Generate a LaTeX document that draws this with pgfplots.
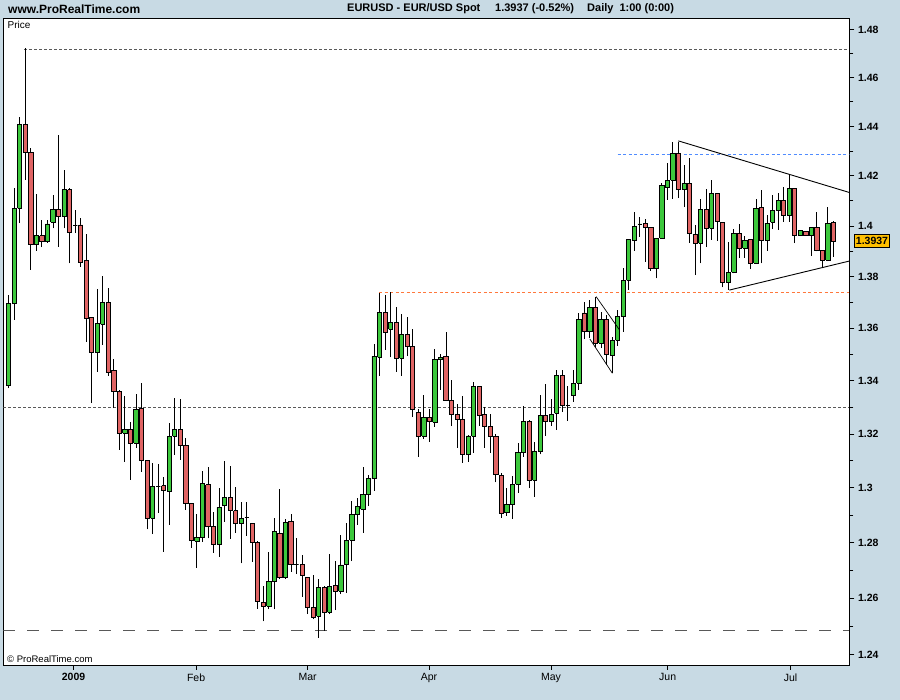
\documentclass[border=0pt]{standalone}
\usepackage{pgfplots}
\pgfplotsset{compat=1.18}
\usepackage{pgfplotstable}
\usepackage{fontspec}
\setmainfont{Liberation Sans}
\definecolor{bgcol}{RGB}{200,218,228}
\definecolor{candgreen}{RGB}{60,200,60}
\definecolor{candred}{RGB}{224,100,100}
\definecolor{pricebox}{RGB}{255,192,0}
\definecolor{reforange}{RGB}{255,120,60}
\definecolor{refblue}{RGB}{80,140,255}

\pgfplotstableread{
i o h l c
0 1.3380 1.3729 1.3371 1.3697
1 1.3697 1.4150 1.3633 1.4071
2 1.4071 1.4440 1.4011 1.4410
3 1.4410 1.4723 1.4184 1.4296
4 1.4296 1.4312 1.3827 1.3925
5 1.3928 1.4128 1.3903 1.3961
6 1.3961 1.4024 1.3916 1.3938
7 1.3938 1.4024 1.3935 1.4008
8 1.4015 1.4124 1.3991 1.4064
9 1.4064 1.4366 1.3918 1.4037
10 1.4037 1.4224 1.3991 1.4144
11 1.4144 1.4150 1.3853 1.3975
12 1.4003 1.4064 1.3971 1.4003
13 1.4004 1.4033 1.3840 1.3857
14 1.3865 1.3967 1.3549 1.3639
15 1.3643 1.3645 1.3315 1.3509
16 1.3509 1.3753 1.3434 1.3620
17 1.3616 1.3803 1.3537 1.3701
18 1.3701 1.3755 1.3419 1.3432
19 1.3440 1.3482 1.3296 1.3359
20 1.3359 1.3366 1.3140 1.3202
21 1.3202 1.3342 1.3096 1.3217
22 1.3217 1.3246 1.3029 1.3165
23 1.3165 1.3349 1.3148 1.3292
24 1.3296 1.3390 1.3059 1.3099
25 1.3099 1.3101 1.2848 1.2888
26 1.2888 1.3091 1.2831 1.3004
27 1.3006 1.3088 1.2909 1.3006
28 1.3008 1.3039 1.2767 1.2992
29 1.2987 1.3240 1.2864 1.3191
30 1.3191 1.3334 1.3122 1.3217
31 1.3217 1.3331 1.3103 1.3157
32 1.3157 1.3183 1.2919 1.2943
33 1.2943 1.2945 1.2781 1.2808
34 1.2804 1.2904 1.2709 1.2819
35 1.2819 1.3062 1.2802 1.3016
36 1.3012 1.3076 1.2815 1.2860
37 1.2860 1.2912 1.2763 1.2794
38 1.2794 1.2998 1.2749 1.2928
39 1.2934 1.3099 1.2876 1.2965
40 1.2965 1.3081 1.2814 1.2916
41 1.2915 1.3003 1.2836 1.2870
42 1.2870 1.2948 1.2725 1.2888
43 1.2890 1.2948 1.2825 1.2890
44 1.2870 1.2872 1.2731 1.2801
45 1.2801 1.2805 1.2562 1.2590
46 1.2585 1.2643 1.2518 1.2571
47 1.2571 1.2765 1.2560 1.2660
48 1.2660 1.2889 1.2560 1.2841
49 1.2834 1.2994 1.2668 1.2675
50 1.2675 1.2886 1.2668 1.2874
51 1.2878 1.2903 1.2695 1.2722
52 1.2722 1.2818 1.2686 1.2722
53 1.2722 1.2755 1.2605 1.2682
54 1.2675 1.2677 1.2543 1.2567
55 1.2567 1.2683 1.2525 1.2532
56 1.2536 1.2669 1.2460 1.2639
57 1.2639 1.2643 1.2484 1.2550
58 1.2550 1.2759 1.2543 1.2643
59 1.2646 1.2734 1.2558 1.2624
60 1.2624 1.2827 1.2615 1.2719
61 1.2722 1.2872 1.2619 1.2809
62 1.2809 1.2951 1.2733 1.2903
63 1.2903 1.2961 1.2864 1.2931
64 1.2921 1.3078 1.2836 1.2976
65 1.2976 1.3047 1.2933 1.3033
66 1.3033 1.3539 1.2989 1.3492
67 1.3489 1.3738 1.3419 1.3662
68 1.3662 1.3729 1.3517 1.3585
69 1.3597 1.3740 1.3489 1.3624
70 1.3624 1.3682 1.3434 1.3486
71 1.3486 1.3655 1.3419 1.3577
72 1.3577 1.3643 1.3494 1.3532
73 1.3532 1.3597 1.3262 1.3293
74 1.3281 1.3293 1.3115 1.3192
75 1.3192 1.3345 1.3180 1.3262
76 1.3262 1.3292 1.3171 1.3247
77 1.3243 1.3521 1.3226 1.3479
78 1.3479 1.3502 1.3365 1.3489
79 1.3493 1.3587 1.3323 1.3325
80 1.3326 1.3403 1.3229 1.3273
81 1.3273 1.3311 1.3148 1.3255
82 1.3255 1.3342 1.3093 1.3124
83 1.3124 1.3196 1.3096 1.3192
84 1.3192 1.3395 1.3130 1.3379
85 1.3379 1.3381 1.3231 1.3270
86 1.3273 1.3300 1.3148 1.3229
87 1.3229 1.3275 1.3130 1.3191
88 1.3191 1.3199 1.3020 1.3050
89 1.3046 1.3056 1.2891 1.2907
90 1.2909 1.2999 1.2897 1.2939
91 1.2939 1.3044 1.2887 1.3013
92 1.3013 1.3165 1.2982 1.3131
93 1.3131 1.3305 1.3115 1.3247
94 1.3247 1.3252 1.3001 1.3027
95 1.3027 1.3168 1.2967 1.3135
96 1.3135 1.3346 1.3124 1.3270
97 1.3270 1.3388 1.3193 1.3247
98 1.3247 1.3331 1.3231 1.3273
99 1.3277 1.3441 1.3215 1.3421
100 1.3421 1.3441 1.3283 1.3307
101 1.3306 1.3380 1.3250 1.3306
102 1.3346 1.3441 1.3320 1.3390
103 1.3390 1.3659 1.3365 1.3635
104 1.3659 1.3703 1.3558 1.3587
105 1.3587 1.3710 1.3562 1.3682
106 1.3682 1.3723 1.3530 1.3543
107 1.3543 1.3665 1.3524 1.3635
108 1.3635 1.3652 1.3460 1.3501
109 1.3497 1.3566 1.3428 1.3554
110 1.3554 1.3671 1.3533 1.3647
111 1.3647 1.3833 1.3587 1.3786
112 1.3786 1.3948 1.3749 1.3945
113 1.3944 1.4057 1.3903 1.3999
114 1.4008 1.4035 1.3958 1.4008
115 1.4010 1.4028 1.3859 1.3995
116 1.3995 1.3997 1.3824 1.3833
117 1.3833 1.3954 1.3794 1.3952
118 1.3952 1.4173 1.3950 1.4162
119 1.4154 1.4251 1.4104 1.4182
120 1.4182 1.4338 1.4107 1.4291
121 1.4291 1.4338 1.4111 1.4147
122 1.4147 1.4244 1.4075 1.4170
123 1.4170 1.4271 1.3934 1.3971
124 1.3967 1.4004 1.3807 1.3932
125 1.3932 1.4107 1.3853 1.4067
126 1.4067 1.4147 1.3916 1.3991
127 1.3991 1.4184 1.3945 1.4127
128 1.4127 1.4130 1.3941 1.4020
129 1.4015 1.4017 1.3759 1.3779
130 1.3779 1.3936 1.3749 1.3818
131 1.3818 1.3988 1.3814 1.3971
132 1.3971 1.4007 1.3875 1.3912
133 1.3912 1.3961 1.3875 1.3941
134 1.3945 1.3947 1.3830 1.3853
135 1.3853 1.4109 1.3851 1.4069
136 1.4075 1.4144 1.3853 1.3944
137 1.3944 1.4044 1.3903 1.4011
138 1.4015 1.4124 1.3987 1.4060
139 1.4060 1.4131 1.3984 1.4103
140 1.4103 1.4154 1.4016 1.4043
141 1.4043 1.4204 1.4016 1.4150
142 1.4150 1.4152 1.3932 1.3962
143 1.3962 1.3985 1.3960 1.3983
144 1.3979 1.3981 1.3961 1.3963
145 1.3963 1.3997 1.3882 1.3995
146 1.3995 1.4057 1.3900 1.3902
147 1.3902 1.3904 1.3840 1.3865
148 1.3865 1.4075 1.3862 1.4011
149 1.4015 1.4020 1.3879 1.3937
}\ohlc

\begin{document}
\begin{tikzpicture}
\path[use as bounding box, fill=bgcol] (0pt,0pt) rectangle (900pt,700pt);
\begin{axis}[
  at={(3.3pt,35pt)}, anchor=south west,
  scale only axis, width=846pt, height=647pt,
  axis background/.style={fill=white},
  axis line style={black, line width=0.8pt},
  xmin=-0.98, xmax=151.85,
  ymode=log, ymin=1.2364, ymax=1.4849,
  ytick={1.24,1.26,1.28,1.30,1.32,1.34,1.36,1.38,1.40,1.42,1.44,1.46,1.48},
  yticklabels={\textbf{1.24},\textbf{1.26},\textbf{1.28},\textbf{1.3},\textbf{1.32},\textbf{1.34},\textbf{1.36},\textbf{1.38},\textbf{1.4},\textbf{1.42},\textbf{1.44},\textbf{1.46},\textbf{1.48}},
  minor ytick={1.25,1.27,1.29,1.31,1.33,1.35,1.37,1.39,1.41,1.43,1.45,1.47},
  ytick pos=right, xtick pos=bottom,
  tick align=outside,
  major tick length=5pt, minor tick length=4pt,
  tick style={black, line width=0.8pt},
  xtick={11.71,33.84,54.01,75.93,97.97,119.03,141.23},
  xticklabels={\textbf{2009},Feb,Mar,Apr,May,Jun,Jul},
  /pgf/number format/assume math mode=true,
  yticklabel style={font=\fontsize{10.5}{12}\selectfont, inner sep=1.5pt, xshift=2pt},
  xticklabel style={font=\fontsize{10.5}{12}\selectfont, inner sep=2pt, yshift=-1.5pt},
  every axis plot/.append style={mark=none, forget plot},
  candwick/.style={black, line width=1pt},
  candbody/.style={draw=black, line width=0.9pt, line join=miter},
]
% reference lines
\addplot[gray!70!black, line width=0.8pt, dash pattern=on 3pt off 2pt] coordinates {(2.82,1.4719) (151.85,1.4719)};
\addplot[gray!70!black, line width=0.8pt, dash pattern=on 3pt off 2pt] coordinates {(-0.98,1.3300) (151.85,1.3300)};
\addplot[gray!70!black, line width=1pt, dash pattern=on 12pt off 12pt] coordinates {(-0.98,1.2484) (151.85,1.2484)};
\addplot[reforange, line width=0.8pt, dash pattern=on 3pt off 2.5pt] coordinates {(66.9,1.3739) (151.85,1.3739)};
\addplot[refblue, line width=0.8pt, dash pattern=on 3pt off 2.5pt] coordinates {(110.0,1.4287) (151.85,1.4287)};
% candles
\pgfplotsinvokeforeach{0,...,149}{
  \pgfplotstablegetelem{#1}{o}\of\ohlc \edef\vo{\pgfplotsretval}
  \pgfplotstablegetelem{#1}{h}\of\ohlc \edef\vh{\pgfplotsretval}
  \pgfplotstablegetelem{#1}{l}\of\ohlc \edef\vl{\pgfplotsretval}
  \pgfplotstablegetelem{#1}{c}\of\ohlc \edef\vc{\pgfplotsretval}
  \pgfmathsetmacro\xa{#1-0.38}
  \pgfmathsetmacro\xb{#1+0.38}
  \ifdim\vc pt<\vo pt \def\bodycol{candred}\else\def\bodycol{candgreen}\fi
  \edef\temp{%
    \noexpand\addplot[candwick] coordinates {(#1,\vl) (#1,\vh)};
    \noexpand\addplot[candbody, fill=\bodycol] coordinates {(\xa,\vo) (\xb,\vo) (\xb,\vc) (\xa,\vc) (\xa,\vo)};
  }\temp
}
% trend lines
\addplot[black, line width=0.9pt] coordinates {(120.96,1.4341) (151.85,1.4134)};
\addplot[black, line width=0.9pt] coordinates {(130.18,1.3748) (151.85,1.3862)};
\addplot[black, line width=0.7pt] coordinates {(106.1,1.3723) (110.35,1.3594)};
\addplot[black, line width=0.7pt] coordinates {(105.0,1.3559) (109.05,1.3428)};
\end{axis}
\node[anchor=west, inner sep=0pt, font=\bfseries\fontsize{12}{14}\selectfont] at (8pt,691pt) {www.ProRealTime.com};
\node[anchor=west, inner sep=0pt, font=\bfseries\fontsize{11}{13}\selectfont] at (347pt,691pt) {EURUSD - EUR/USD Spot};
\node[anchor=west, inner sep=0pt, font=\bfseries\fontsize{11}{13}\selectfont] at (495pt,691pt) {1.3937 (-0.52\%)};
\node[anchor=west, inner sep=0pt, font=\bfseries\fontsize{11}{13}\selectfont] at (587pt,691pt) {Daily\ \ 1:00 (0:00)};
\node[anchor=west, inner sep=0pt, font=\fontsize{10}{12}\selectfont] at (7.5pt,675.5pt) {Price};
\node[anchor=west, inner sep=0pt, font=\fontsize{9.5}{11}\selectfont] at (7pt,41pt) {\textcopyright\ ProRealTime.com};
\node[fill=pricebox, draw=black, line width=0.8pt, inner xsep=1.5pt, inner ysep=3pt, font=\bfseries\fontsize{10.5}{12}\selectfont] at (872pt,459pt) {1.3937};
\end{tikzpicture}
\end{document}
